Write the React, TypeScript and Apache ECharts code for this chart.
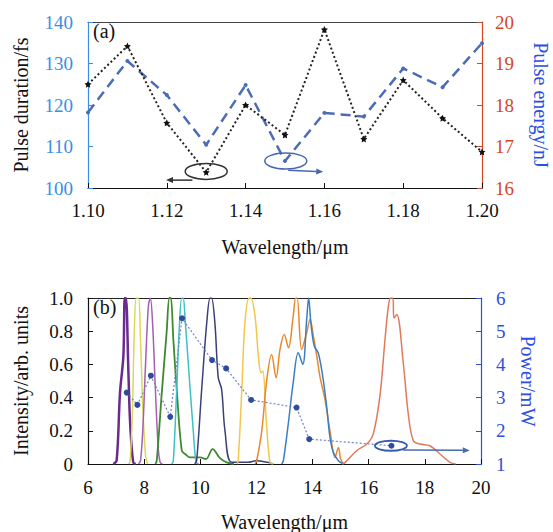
import React, { useEffect, useRef } from "react";
import * as echarts from "echarts";

// ---------- (a) data ----------
const wavelengthA = [1.1, 1.11, 1.12, 1.13, 1.14, 1.15, 1.16, 1.17, 1.18, 1.19, 1.2];
const pulseDuration = [125, 134.2, 115.7, 103.8, 120, 112.8, 138.2, 111.8, 126, 116.8, 108.7];
const pulseEnergy = [17.82, 19.06, 18.24, 17.04, 18.48, 16.65, 17.81, 17.72, 18.88, 18.43, 19.49];

// ---------- (b) data ----------
const specPurple = [[6.9, 0], [7.02, 0.02], [7.14, 0.43], [7.26, 0.65], [7.31, 1.0], [7.35, 1.0], [7.44, 0.55], [7.5, 0.25], [7.61, 0.01], [7.7, 0]];
const specLime = [[7.45, 0], [7.5, 0.02], [7.58, 0.3], [7.65, 0.8], [7.72, 1.0], [7.8, 1.0], [7.87, 0.75], [7.95, 0.35], [8.05, 0.05], [8.12, 0]];
const specViolet = [[7.8, 0], [7.87, 0.02], [7.95, 0.2], [8.05, 0.6], [8.15, 0.95], [8.22, 1.0], [8.3, 0.85], [8.4, 0.45], [8.5, 0.1], [8.57, 0.01], [8.65, 0]];
const specGreen = [[8.4, 0], [8.45, 0.02], [8.62, 0.41], [8.8, 0.79], [8.9, 1.0], [8.95, 1.0], [9.04, 0.75], [9.16, 0.45], [9.34, 0.08], [9.46, 0.06], [9.63, 0.04], [9.99, 0.04], [10.2, 0.03], [10.44, 0.09], [10.7, 0.035], [10.94, 0.01], [11.2, 0]];
const specCyan = [[8.98, 0], [9.04, 0.02], [9.16, 0.45], [9.25, 0.81], [9.34, 1.0], [9.39, 1.0], [9.46, 0.87], [9.63, 0.47], [9.75, 0.2], [9.85, 0.01], [9.95, 0]];
const specNavy = [[9.8, 0], [9.87, 0.02], [10.05, 0.45], [10.23, 0.85], [10.35, 1.0], [10.4, 1.0], [10.52, 0.85], [10.64, 0.52], [10.76, 0.45], [10.88, 0.2], [11.12, 0.01], [11.7, 0.01], [12.0, 0.02], [12.4, 0.01], [12.6, 0]];
const specYellow = [[11.3, 0], [11.35, 0.02], [11.48, 0.45], [11.59, 0.85], [11.74, 1.0], [11.8, 1.0], [11.95, 0.89], [12.07, 0.65], [12.16, 0.55], [12.23, 0.56], [12.34, 0.29], [12.48, 0.01], [12.6, 0]];
const specOrange = [[11.95, 0], [12.01, 0.02], [12.19, 0.2], [12.37, 0.51], [12.54, 0.66], [12.7, 0.52], [12.84, 0.69], [12.99, 0.78], [13.14, 0.7], [13.31, 0.89], [13.4, 1.0], [13.45, 1.0], [13.61, 0.69], [13.79, 0.79], [13.91, 0.87], [14.03, 0.77], [14.15, 0.65], [14.27, 0.52], [14.44, 0.39], [14.62, 0.2], [14.8, 0.04], [14.92, 0.1], [15.0, 0.03], [15.1, 0]];
const specBlue = [[12.9, 0], [12.96, 0.02], [13.14, 0.25], [13.31, 0.49], [13.49, 0.67], [13.65, 0.6], [13.79, 0.87], [13.86, 1.0], [13.94, 0.85], [14.06, 0.71], [14.2, 0.67], [14.36, 0.53], [14.5, 0.35], [14.62, 0.16], [14.74, 0.07], [14.92, 0.02], [15.1, 0]];
const specRed = [[15.05, 0], [15.16, 0.01], [15.57, 0.08], [15.93, 0.12], [16.16, 0.18], [16.4, 0.41], [16.58, 0.75], [16.7, 0.95], [16.78, 1.0], [16.86, 1.0], [16.9, 0.88], [17.0, 0.9], [17.23, 0.61], [17.41, 0.3], [17.59, 0.14], [17.83, 0.12], [18.18, 0.11], [18.54, 0.06], [18.9, 0.01], [19.1, 0]];

const powerWavelength = [7.38, 7.76, 8.24, 8.93, 9.35, 10.42, 10.92, 11.81, 13.43, 13.88, 16.81];
const powerValues = [3.15, 2.78, 3.66, 2.42, 5.39, 4.13, 3.88, 2.93, 2.7, 1.75, 1.55];

// annotation anchors (data coordinates)
const ellipseA1 = [1.13, 104]; // left axis
const arrowA1 = [[1.1265, 101.9], [1.1198, 101.9]];
const ellipseA2 = [1.1502, 16.65]; // right axis
const arrowA2 = [[1.1508, 16.43], [1.1597, 16.39]];
const ellipseB = [16.79, 1.55]; // power axis
const arrowB = [[17.22, 1.42], [19.6, 1.41]];

const FONT = "Liberation Serif";
const C_LBLUE = "#3a8ee6";
const C_RED = "#d4471f";
const C_BLUE = "#2b4fe0";
const C_DASH = "#4b6cb7";

const STAR = "path://M0,-10 L2.9,-4 L9.5,-3.1 L4.7,1.5 L5.9,8.1 L0,5 L-5.9,8.1 L-4.7,1.5 L-9.5,-3.1 L-2.9,-4 Z";

function spec(data: number[][], color: string, width = 1.5) {
  return {
    type: "line",
    xAxisIndex: 2,
    yAxisIndex: 2,
    data,
    smooth: 0.35,
    symbol: "none",
    lineStyle: { color, width },
    z: 2,
  };
}

export default function App() {
  const ref = useRef<HTMLDivElement>(null);
  useEffect(() => {
    if (!ref.current) return;
    const chart = echarts.init(ref.current, undefined, { renderer: "svg" });
    const labelBase = { fontFamily: FONT, fontSize: 19 };
    const nameBase = { fontFamily: FONT, fontSize: 20, color: "#111" };
    const tickIn = (color: string) => ({ show: true, inside: true, length: 5, lineStyle: { color, width: 1 } });
    const option: any = {
      animation: false,
      backgroundColor: "#fff",
      textStyle: { fontFamily: FONT },
      grid: [
        { left: 88, right: 71, top: 22, height: 166, outerBoundsMode: "none", containLabel: false },
        { left: 88, right: 72, top: 298, height: 166, outerBoundsMode: "none", containLabel: false },
      ],
      xAxis: [
        {
          gridIndex: 0, type: "value", min: 1.1, max: 1.2, interval: 0.02, position: "bottom",
          axisLine: { lineStyle: { color: "#111", width: 1.2 } },
          axisTick: tickIn("#111"),
          axisLabel: { ...labelBase, color: "#111", margin: 13, formatter: (v: number) => v.toFixed(2) },
          splitLine: { show: false },
          name: "Wavelength/μm", nameLocation: "middle", nameGap: 49, nameTextStyle: nameBase,
        },
        {
          gridIndex: 0, type: "value", min: 1.1, max: 1.2, position: "top",
          axisLine: { lineStyle: { color: "#444", width: 1.2 } },
          axisTick: { show: false }, axisLabel: { show: false }, splitLine: { show: false },
        },
        {
          gridIndex: 1, type: "value", min: 6, max: 20, interval: 2, position: "bottom",
          axisLine: { lineStyle: { color: "#111", width: 1.2 } },
          axisTick: tickIn("#111"),
          axisLabel: { ...labelBase, color: "#111", margin: 14 },
          splitLine: { show: false },
          name: "Wavelength/μm", nameLocation: "middle", nameGap: 48, nameTextStyle: nameBase,
        },
        {
          gridIndex: 1, type: "value", min: 6, max: 20, position: "top",
          axisLine: { lineStyle: { color: "#222", width: 1.2 } },
          axisTick: { show: false }, axisLabel: { show: false }, splitLine: { show: false },
        },
      ],
      yAxis: [
        {
          gridIndex: 0, type: "value", min: 100, max: 140, interval: 10, position: "left",
          axisLine: { show: true, lineStyle: { color: C_LBLUE, width: 1.2 } },
          axisTick: tickIn(C_LBLUE),
          axisLabel: { ...labelBase, color: C_LBLUE, margin: 15 },
          splitLine: { show: false },
          name: "Pulse duration/fs", nameLocation: "middle", nameGap: 57, nameTextStyle: nameBase,
        },
        {
          gridIndex: 0, type: "value", min: 16, max: 20, interval: 1, position: "right",
          axisLine: { show: true, lineStyle: { color: C_RED, width: 1.2 } },
          axisTick: tickIn(C_RED),
          axisLabel: { ...labelBase, color: C_RED, margin: 13 },
          splitLine: { show: false },
          name: "Pulse energy/nJ", nameLocation: "middle", nameGap: 49, nameRotate: -90,
          nameTextStyle: { ...nameBase, color: C_BLUE },
        },
        {
          gridIndex: 1, type: "value", min: 0, max: 1, interval: 0.2, position: "left",
          axisLine: { show: true, lineStyle: { color: "#111", width: 1.2 } },
          axisTick: tickIn("#111"),
          axisLabel: { ...labelBase, color: "#111", margin: 15, formatter: (v: number) => (v === 0 ? "0" : v.toFixed(1)) },
          splitLine: { show: false },
          name: "Intensity/arb. units", nameLocation: "middle", nameGap: 57, nameTextStyle: nameBase,
        },
        {
          gridIndex: 1, type: "value", min: 1, max: 6, interval: 1, position: "right",
          axisLine: { show: true, lineStyle: { color: C_BLUE, width: 1.2 } },
          axisTick: tickIn(C_BLUE),
          axisLabel: { ...labelBase, color: C_BLUE, margin: 15 },
          splitLine: { show: false },
          name: "Power/mW", nameLocation: "middle", nameGap: 37, nameRotate: -90,
          nameTextStyle: { ...nameBase, color: C_BLUE },
        },
      ],
      series: [
        {
          type: "line", xAxisIndex: 0, yAxisIndex: 0,
          data: wavelengthA.map((w, i) => [w, pulseDuration[i]]),
          symbol: STAR, symbolSize: 7,
          itemStyle: { color: "#111" },
          lineStyle: { color: "#222", width: 2, type: [2, 2.5] },
          z: 3,
        },
        {
          type: "line", xAxisIndex: 0, yAxisIndex: 1,
          data: wavelengthA.map((w, i) => [w, pulseEnergy[i]]),
          symbol: "circle", symbolSize: 4,
          itemStyle: { color: C_DASH },
          lineStyle: { color: C_DASH, width: 2.5, type: [10, 6] },
          z: 2,
        },
        spec(specPurple, "#6a2a8e", 2.5),
        spec(specLime, "#d8d85a"),
        spec(specViolet, "#a460b4"),
        spec(specGreen, "#3f8a30", 1.8),
        spec(specCyan, "#3fc0c0"),
        spec(specNavy, "#3c3f78"),
        spec(specYellow, "#f2c64a"),
        spec(specOrange, "#e8882e"),
        spec(specBlue, "#3a7fc2"),
        spec(specRed, "#e07a5c"),
        {
          type: "line", xAxisIndex: 2, yAxisIndex: 3,
          data: powerWavelength.map((w, i) => [w, powerValues[i]]),
          symbol: "circle", symbolSize: 6,
          itemStyle: { color: "#2f4b9c" },
          lineStyle: { color: "#6a85c0", width: 1.2, type: [2, 2] },
          z: 4,
        },
      ],
    };
    chart.setOption(option);

    const px = (xi: number, yi: number, pt: number[]) =>
      chart.convertToPixel({ xAxisIndex: xi, yAxisIndex: yi } as any, pt) as number[];

    const arrow = (a: number[], b: number[], color: string) => {
      const dx = b[0] - a[0];
      const dy = b[1] - a[1];
      const len = Math.hypot(dx, dy) || 1;
      const ux = dx / len, uy = dy / len;
      const hl = 7, hw = 3;
      const base = [b[0] - ux * hl, b[1] - uy * hl];
      return [
        { type: "line", shape: { x1: a[0], y1: a[1], x2: base[0], y2: base[1] }, style: { stroke: color, lineWidth: 1.5 }, z: 10 },
        {
          type: "polygon",
          shape: { points: [[b[0], b[1]], [base[0] - uy * hw, base[1] + ux * hw], [base[0] + uy * hw, base[1] - ux * hw]] },
          style: { fill: color }, z: 10,
        },
      ];
    };

    const e1 = px(0, 0, ellipseA1);
    const e2 = px(0, 1, ellipseA2);
    const e3 = px(2, 3, ellipseB);
    const graphic: any[] = [
      { type: "text", left: 93, top: 21, style: { text: "(a)", font: `20px ${FONT}`, fill: "#111" }, z: 10 },
      { type: "text", left: 93, top: 297, style: { text: "(b)", font: `20px ${FONT}`, fill: "#111" }, z: 10 },
      { type: "ellipse", shape: { cx: e1[0], cy: e1[1], rx: 21, ry: 8 }, style: { fill: "none", stroke: "#333", lineWidth: 1.5 }, z: 10 },
      { type: "ellipse", shape: { cx: e2[0], cy: e2[1], rx: 21, ry: 8 }, style: { fill: "none", stroke: "#4a68b0", lineWidth: 1.5 }, z: 10 },
      { type: "ellipse", shape: { cx: e3[0], cy: e3[1], rx: 16, ry: 5 }, style: { fill: "none", stroke: "#3a5ab0", lineWidth: 1.8 }, z: 10 },
      ...arrow(px(0, 0, arrowA1[0]), px(0, 0, arrowA1[1]), "#333"),
      ...arrow(px(0, 1, arrowA2[0]), px(0, 1, arrowA2[1]), "#4a68b0"),
      ...arrow(px(2, 3, arrowB[0]), px(2, 3, arrowB[1]), "#4a6ab0"),
    ];
    chart.setOption({ graphic });
    return () => chart.dispose();
  }, []);
  return <div ref={ref} style={{ position: "absolute", left: 0, top: 0, width: 553, height: 532 }} />;
}
